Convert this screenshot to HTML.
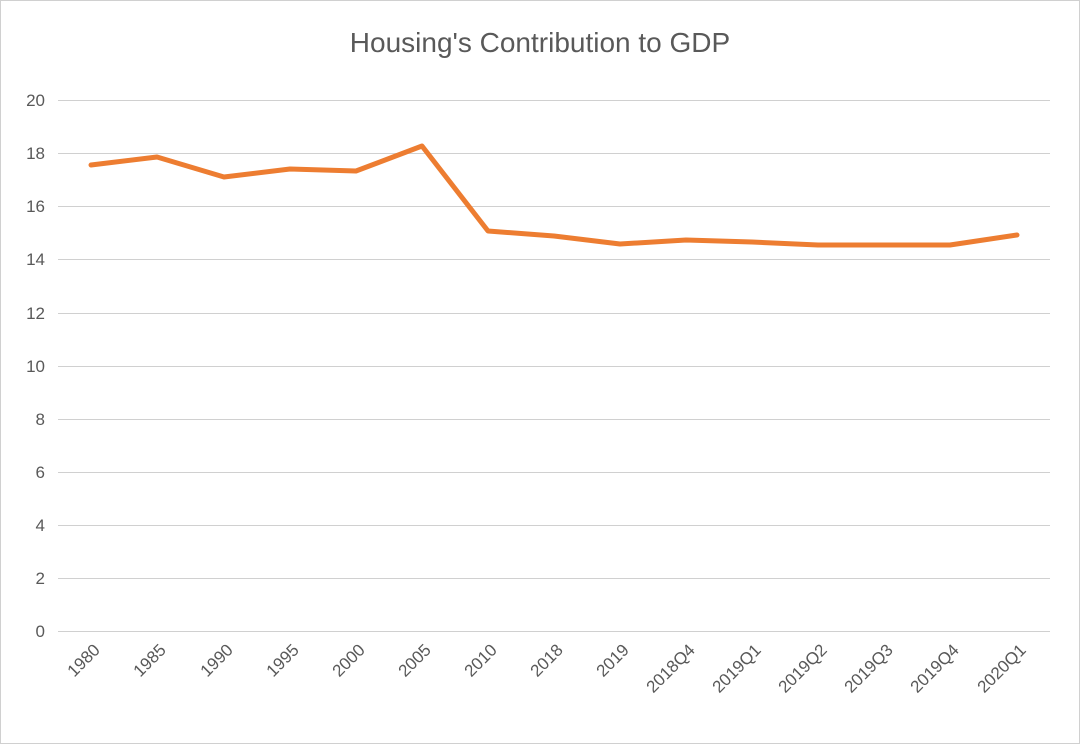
<!DOCTYPE html>
<html><head><style>body{margin:0;background:#fff}</style></head><body>
<svg width="1080" height="744" xmlns="http://www.w3.org/2000/svg" font-family="Liberation Sans, sans-serif">
<rect x="0.5" y="0.5" width="1079" height="743" fill="#fff" stroke="#d0d0d0"/>
<text x="540" y="52" text-anchor="middle" font-size="28" fill="#595959">Housing's Contribution to GDP</text>
<g stroke="#d0d0d0" stroke-width="1">
<line x1="58" x2="1050" y1="100.5" y2="100.5"/><line x1="58" x2="1050" y1="153.5" y2="153.5"/>
<line x1="58" x2="1050" y1="206.5" y2="206.5"/><line x1="58" x2="1050" y1="259.5" y2="259.5"/>
<line x1="58" x2="1050" y1="313.5" y2="313.5"/><line x1="58" x2="1050" y1="366.5" y2="366.5"/>
<line x1="58" x2="1050" y1="419.5" y2="419.5"/><line x1="58" x2="1050" y1="472.5" y2="472.5"/>
<line x1="58" x2="1050" y1="525.5" y2="525.5"/><line x1="58" x2="1050" y1="578.5" y2="578.5"/>
<line x1="58" x2="1050" y1="631.5" y2="631.5"/>
</g>
<g font-size="17" fill="#595959" text-anchor="end">
<text x="45" y="106">20</text><text x="45" y="159">18</text><text x="45" y="212">16</text>
<text x="45" y="265">14</text><text x="45" y="319">12</text><text x="45" y="372">10</text>
<text x="45" y="425">8</text><text x="45" y="478">6</text><text x="45" y="531">4</text>
<text x="45" y="584">2</text><text x="45" y="637">0</text>
</g>
<polyline fill="none" stroke="#ed7d31" stroke-width="5" stroke-linejoin="round" stroke-linecap="round"
points="91,165 157,157 224,177 290,169 356,171 422,146 488,231 554,236 620,244 686,240 752,242 818,245 884,245 950,245 1017,235"/>
<g font-size="17" fill="#595959" text-anchor="end">
<text transform="translate(101,651) rotate(-45)">1980</text>
<text transform="translate(167,651) rotate(-45)">1985</text>
<text transform="translate(234,651) rotate(-45)">1990</text>
<text transform="translate(300,651) rotate(-45)">1995</text>
<text transform="translate(366,651) rotate(-45)">2000</text>
<text transform="translate(432,651) rotate(-45)">2005</text>
<text transform="translate(498,651) rotate(-45)">2010</text>
<text transform="translate(564,651) rotate(-45)">2018</text>
<text transform="translate(630,651) rotate(-45)">2019</text>
<text transform="translate(696,651) rotate(-45)">2018Q4</text>
<text transform="translate(762,651) rotate(-45)">2019Q1</text>
<text transform="translate(828,651) rotate(-45)">2019Q2</text>
<text transform="translate(894,651) rotate(-45)">2019Q3</text>
<text transform="translate(960,651) rotate(-45)">2019Q4</text>
<text transform="translate(1027,651) rotate(-45)">2020Q1</text>
</g>
</svg>
</body></html>
